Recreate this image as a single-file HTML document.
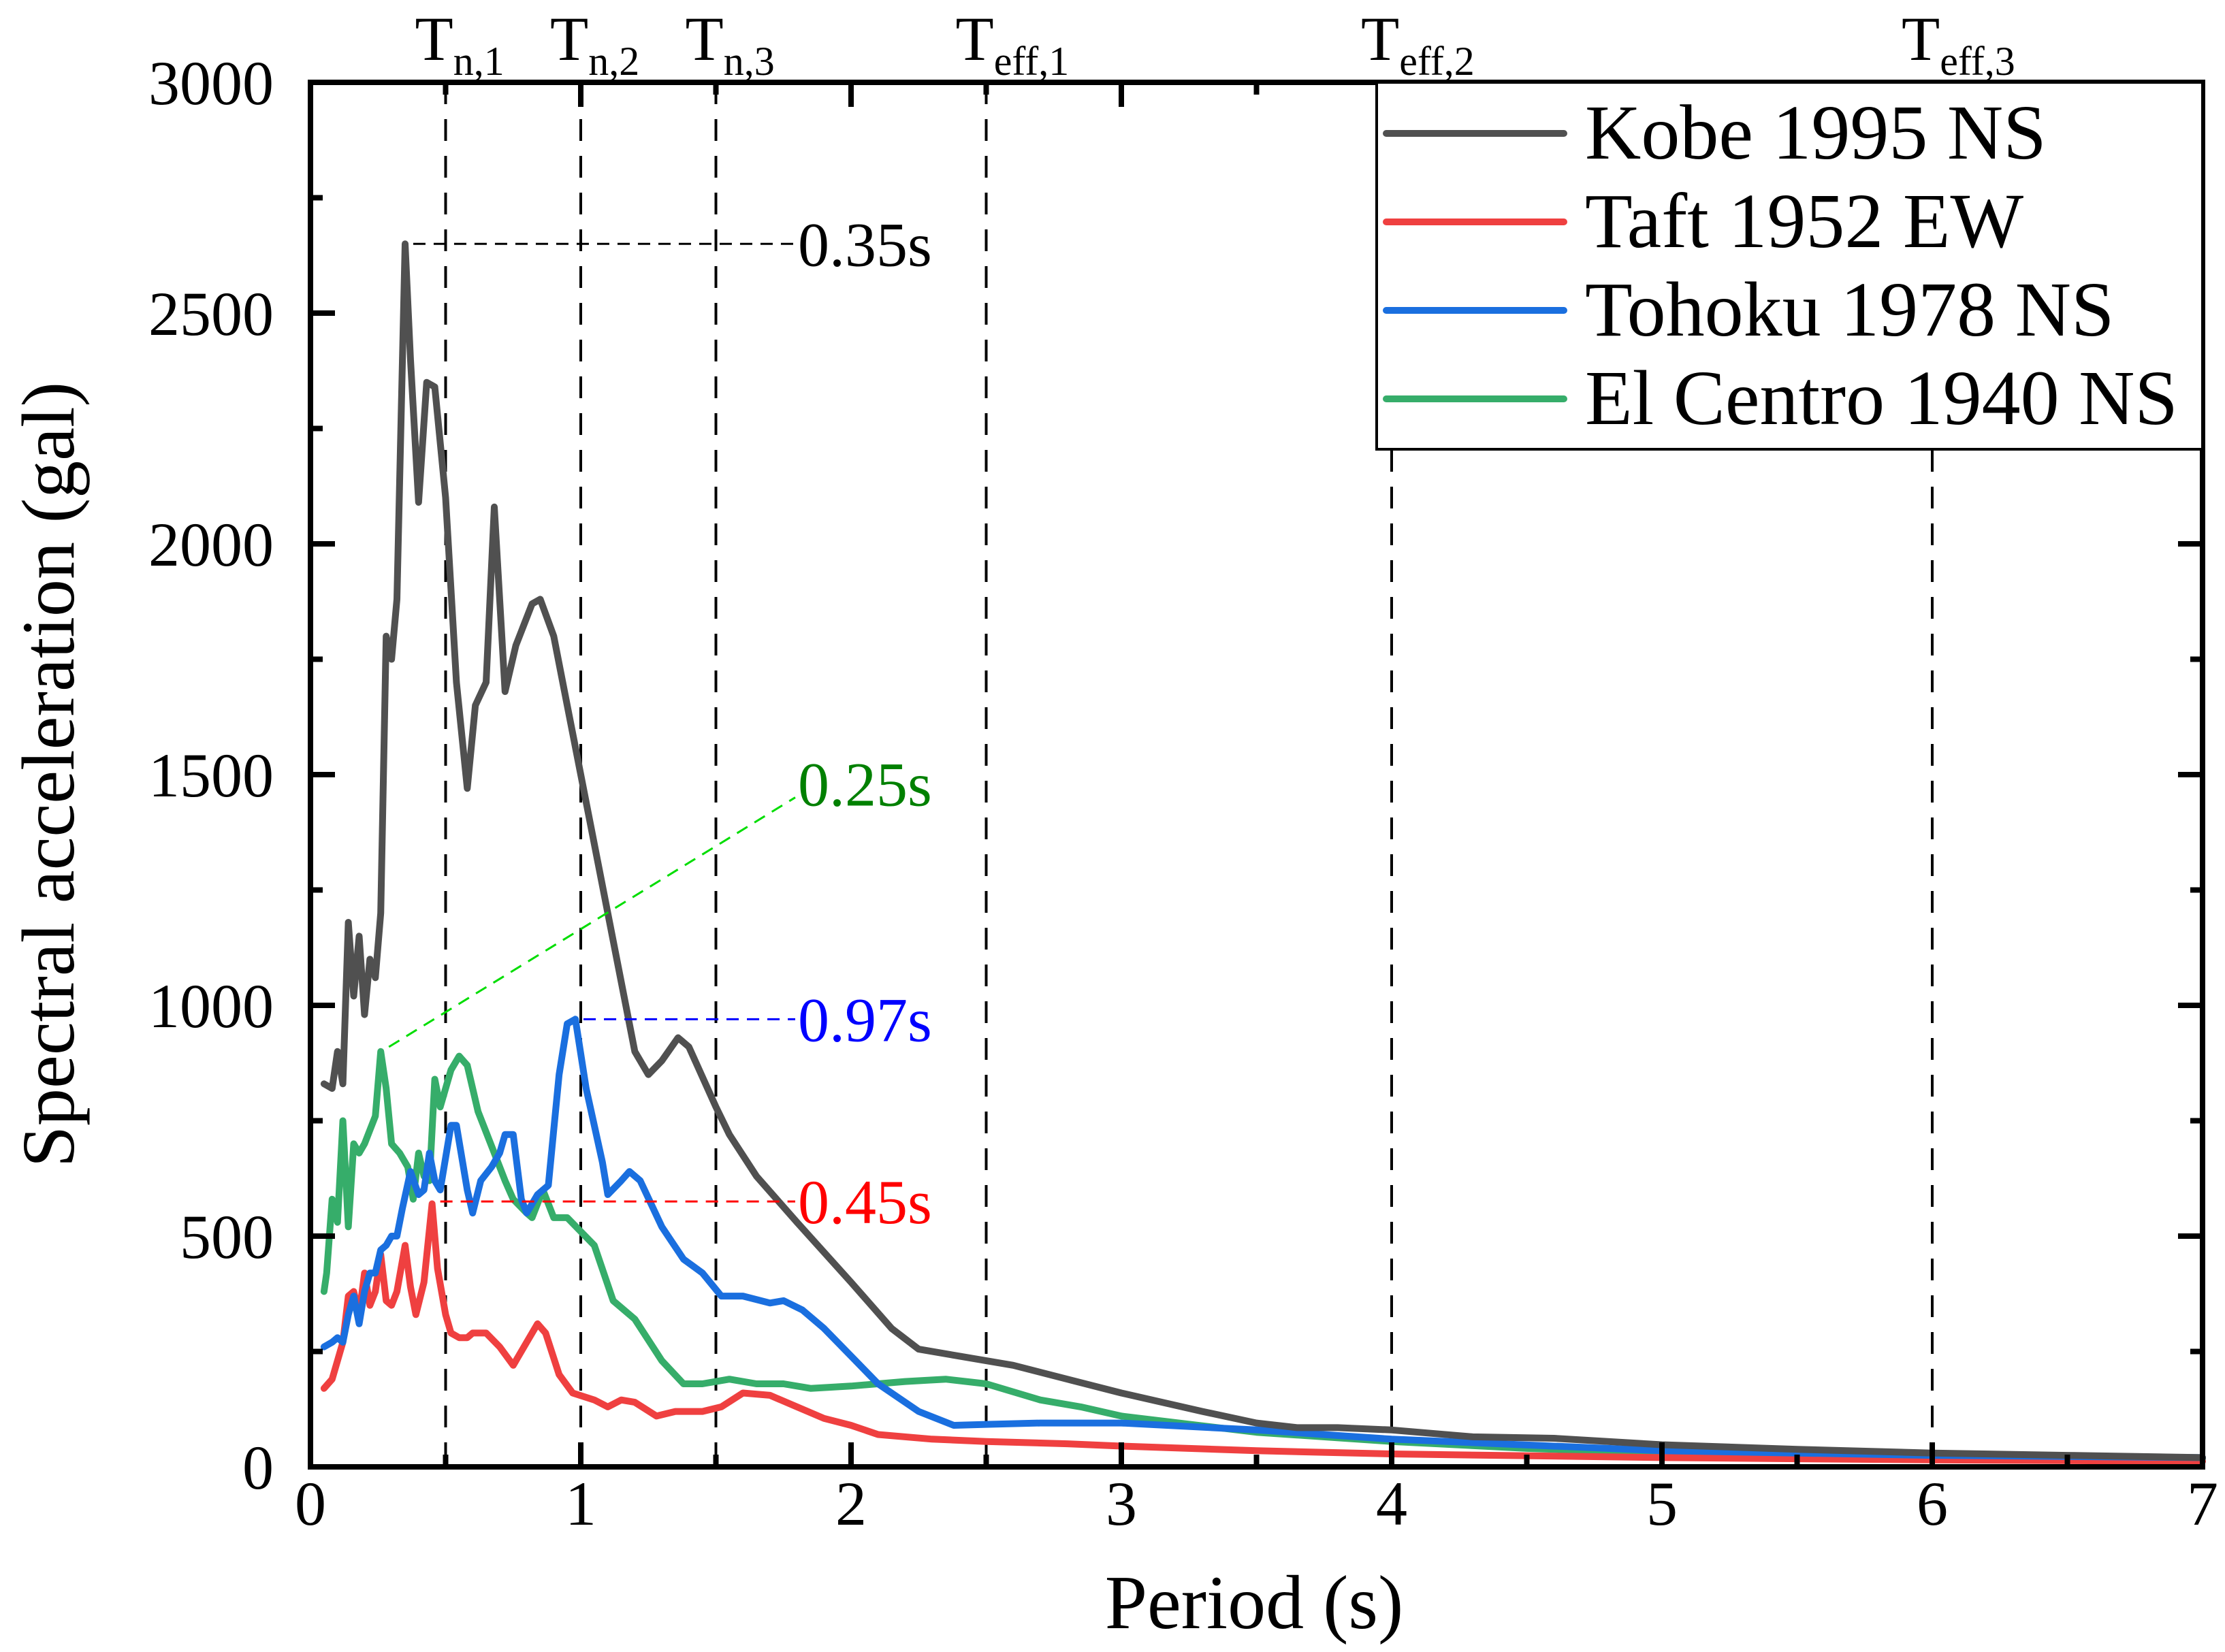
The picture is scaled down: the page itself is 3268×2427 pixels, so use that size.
<!DOCTYPE html>
<html><head><meta charset="utf-8"><style>
html,body{margin:0;padding:0;background:#fff;}
svg{display:block;font-family:"Liberation Serif",serif;}
</style></head><body>
<svg id="chart" width="3268" height="2427" viewBox="0 0 3268 2427" xmlns="http://www.w3.org/2000/svg">
<rect width="3268" height="2427" fill="#fff"/>
<g id="grid"></g><g id="series"></g><g id="annot"></g><g id="axes"></g><g id="legend"></g>
</svg>
<script>
const kobeT=[0.05,0.08,0.1,0.12,0.14,0.16,0.18,0.2,0.22,0.24,0.26,0.28,0.3,0.32,0.35,0.37,0.4,0.43,0.46,0.5,0.54,0.58,0.61,0.65,0.68,0.72,0.76,0.82,0.85,0.9,0.95,1.0,1.1,1.2,1.25,1.3,1.36,1.4,1.5,1.55,1.65,1.8,2.0,2.15,2.25,2.4,2.6,2.8,3.0,3.3,3.5,3.65,3.8,4.0,4.3,4.6,5.0,5.5,6.0,6.5,7.0];
const kobeV=[830,820,900,830,1180,1020,1150,980,1100,1060,1200,1800,1750,1880,2650,2400,2090,2350,2340,2100,1700,1470,1650,1700,2080,1680,1780,1870,1880,1800,1650,1500,1200,900,850,880,930,910,780,720,630,530,400,300,255,240,220,190,160,120,95,85,85,80,65,62,48,38,30,25,20];
const taftT=[0.05,0.08,0.1,0.12,0.14,0.16,0.18,0.2,0.22,0.24,0.26,0.28,0.3,0.32,0.35,0.37,0.39,0.42,0.45,0.47,0.5,0.52,0.55,0.58,0.6,0.65,0.7,0.75,0.8,0.84,0.87,0.92,0.97,1.05,1.1,1.15,1.2,1.28,1.35,1.45,1.52,1.6,1.7,1.8,1.9,2.0,2.1,2.3,2.5,2.8,3.0,3.5,4.0,5.0,6.0,7.0];
const taftV=[170,190,230,270,370,380,330,420,350,380,460,360,350,380,480,390,330,400,570,430,330,290,280,280,290,290,260,220,270,310,290,200,160,145,130,145,140,110,120,120,130,160,155,130,105,90,70,60,55,50,45,35,28,20,15,12];
const tohokuT=[0.05,0.08,0.1,0.12,0.14,0.16,0.18,0.2,0.22,0.24,0.26,0.28,0.3,0.32,0.34,0.37,0.4,0.42,0.44,0.46,0.48,0.52,0.54,0.58,0.6,0.63,0.67,0.7,0.72,0.75,0.78,0.8,0.84,0.88,0.92,0.95,0.98,1.02,1.08,1.1,1.15,1.18,1.22,1.3,1.38,1.45,1.52,1.6,1.7,1.75,1.82,1.9,2.0,2.1,2.25,2.38,2.5,2.7,3.0,3.5,4.0,5.0,6.0,7.0];
const tohokuV=[260,270,280,270,330,370,310,380,420,420,470,480,500,500,560,640,590,600,680,620,600,740,740,600,550,620,650,680,720,720,580,550,590,610,850,960,970,820,660,590,620,640,620,520,450,420,370,370,355,360,340,300,240,180,120,90,92,95,95,80,60,35,25,20];
const elcT=[0.05,0.06,0.08,0.1,0.12,0.14,0.16,0.18,0.2,0.24,0.26,0.28,0.3,0.33,0.36,0.38,0.4,0.42,0.44,0.46,0.48,0.52,0.55,0.58,0.62,0.68,0.72,0.75,0.8,0.82,0.86,0.9,0.95,1.0,1.05,1.12,1.2,1.3,1.38,1.45,1.55,1.65,1.75,1.85,2.0,2.2,2.35,2.5,2.7,2.85,3.0,3.5,4.0,4.5,5.0,6.0,7.0];
const elcV=[380,420,580,530,750,520,700,680,700,760,900,820,700,680,650,580,680,630,620,840,780,860,890,870,770,680,620,580,550,540,600,540,540,510,480,360,320,230,180,180,190,180,180,170,175,185,190,180,145,130,110,75,55,40,30,22,18];
const xTicks=[0,1,2,3,4,5,6,7];
const yTicks=[0,500,1000,1500,2000,2500,3000];
const refT=[0.5,1,1.5,2.5,4,6];
const refMain=["T","T","T","T","T","T"];
const refSub=["n,1","n,2","n,3","eff,1","eff,2","eff,3"];
const peakT=[0.35,0.26,0.98,0.45];
const peakV=[2650,910,970,575];
const peakLabels=["0.35s","0.25s","0.97s","0.45s"];
const labelV=[2650,1480,970,575];

const NS="http://www.w3.org/2000/svg";
const X0=456,X1=3235,Y0=2155,Y1=121;
const xs=t=>X0+(X1-X0)*t/7;
const ys=v=>Y0-(Y0-Y1)*v/3000;
function mk(tag,attrs,parent){const e=document.createElementNS(NS,tag);for(const k in attrs)e.setAttribute(k,attrs[k]);parent.appendChild(e);return e;}
const grid=document.getElementById('grid'),series=document.getElementById('series'),annot=document.getElementById('annot'),axes=document.getElementById('axes'),legend=document.getElementById('legend');

refT.forEach((t,i)=>{
  const l=mk('line',{x1:xs(t),x2:xs(t),y1:Y1,y2:Y0,stroke:'#000','stroke-width':4,'stroke-dasharray':'32 22'},grid);
  
  
  const tx=mk('text',{x:xs(t)-45,y:88,'font-size':92,fill:'#000'},axes);
  
  
  tx.textContent=refMain[i];
  const ts=mk('tspan',{dy:22,'font-size':60},tx);ts.textContent=refSub[i];
});

function drawSeries(T,V,color,name){
  const d=T.map((t,i)=>(i?'L':'M')+xs(t).toFixed(1)+' '+ys(V[i]).toFixed(1)).join(' ');
  const p=mk('path',{d:d,fill:'none',stroke:color,'stroke-width':10,'stroke-linejoin':'round','stroke-linecap':'round'},series);
  
  
}
drawSeries(elcT,elcV,'#36ad6a','series-el-centro-1940');
drawSeries(taftT,taftV,'#ef4040','series-taft-1952');
drawSeries(tohokuT,tohokuV,'#1a6fdf','series-tohoku-1978');
drawSeries(kobeT,kobeV,'#505050','series-kobe-1995');

const annDash=['#000','#00dd00','#0000ff','#ff0000'];
const annText=['#000','#008000','#0000ff','#ff0000'];
const annNames=['kobe','elcentro','tohoku','taft'];
peakT.forEach((t,i)=>{
  const x1=xs(t)+12,y1=ys(peakV[i]),x2=1168,y2=ys(labelV[i]);
  const l=mk('line',{x1:x1,y1:y1,x2:x2,y2:i===1?y2+20:y2,stroke:annDash[i],'stroke-width':3,'stroke-dasharray':'18 12'},annot);
  
  
  const tx=mk('text',{x:1172,y:y2+32,'font-size':92,fill:annText[i]},annot);
  
  
  tx.textContent=peakLabels[i];
});

const fr=mk('rect',{x:X0,y:Y1,width:X1-X0,height:Y0-Y1,fill:'none',stroke:'#000','stroke-width':8},axes);


xTicks.forEach(t=>{
  const x=xs(t);
  mk('line',{x1:x,x2:x,y1:Y0,y2:Y0-36,stroke:'#000','stroke-width':8},axes);
  mk('line',{x1:x,x2:x,y1:Y1,y2:Y1+36,stroke:'#000','stroke-width':8},axes);
  if(t<7){const xm=xs(t+0.5);
    mk('line',{x1:xm,x2:xm,y1:Y0,y2:Y0-18,stroke:'#000','stroke-width':8},axes);
    mk('line',{x1:xm,x2:xm,y1:Y1,y2:Y1+18,stroke:'#000','stroke-width':8},axes);}
  const tx=mk('text',{x:x,y:2240,'font-size':92,'text-anchor':'middle',fill:'#000'},axes);
  
  
  tx.textContent=t;
});
yTicks.forEach(v=>{
  const y=ys(v);
  mk('line',{x1:X0,x2:X0+36,y1:y,y2:y,stroke:'#000','stroke-width':8},axes);
  mk('line',{x1:X1,x2:X1-36,y1:y,y2:y,stroke:'#000','stroke-width':8},axes);
  if(v<3000){const ym=ys(v+250);
    mk('line',{x1:X0,x2:X0+18,y1:ym,y2:ym,stroke:'#000','stroke-width':8},axes);
    mk('line',{x1:X1,x2:X1-18,y1:ym,y2:ym,stroke:'#000','stroke-width':8},axes);}
  const tx=mk('text',{x:402,y:y+32,'font-size':92,'text-anchor':'end',fill:'#000'},axes);
  
  
  tx.textContent=v;
});
const xt=mk('text',{x:1842,y:2392,'font-size':112,'text-anchor':'middle',fill:'#000'},axes);


xt.textContent='Period (s)';
const yt=mk('text',{x:0,y:0,'font-size':110,'text-anchor':'middle',fill:'#000',transform:'translate(108,1138) rotate(-90)'},axes);


yt.textContent='Spectral acceleration (gal)';

const lb=mk('rect',{x:2022,y:121,width:1213,height:539,fill:'#fff',stroke:'#000','stroke-width':4},legend);


const legNames=['Kobe 1995 NS','Taft 1952 EW','Tohoku 1978 NS','El Centro 1940 NS'];
const legColors=['#505050','#ef4040','#1a6fdf','#36ad6a'];
const legY=[196,326,456,586];
legNames.forEach((n,i)=>{
  const g=mk('g',{},legend);
  
  
  mk('line',{x1:2036,x2:2297,y1:legY[i],y2:legY[i],stroke:legColors[i],'stroke-width':10,'stroke-linecap':'round'},g);
  const t=mk('text',{x:2328,y:legY[i]+37,'font-size':114,fill:'#000'},g);
  t.textContent=n;
});
</script>
</body></html>
